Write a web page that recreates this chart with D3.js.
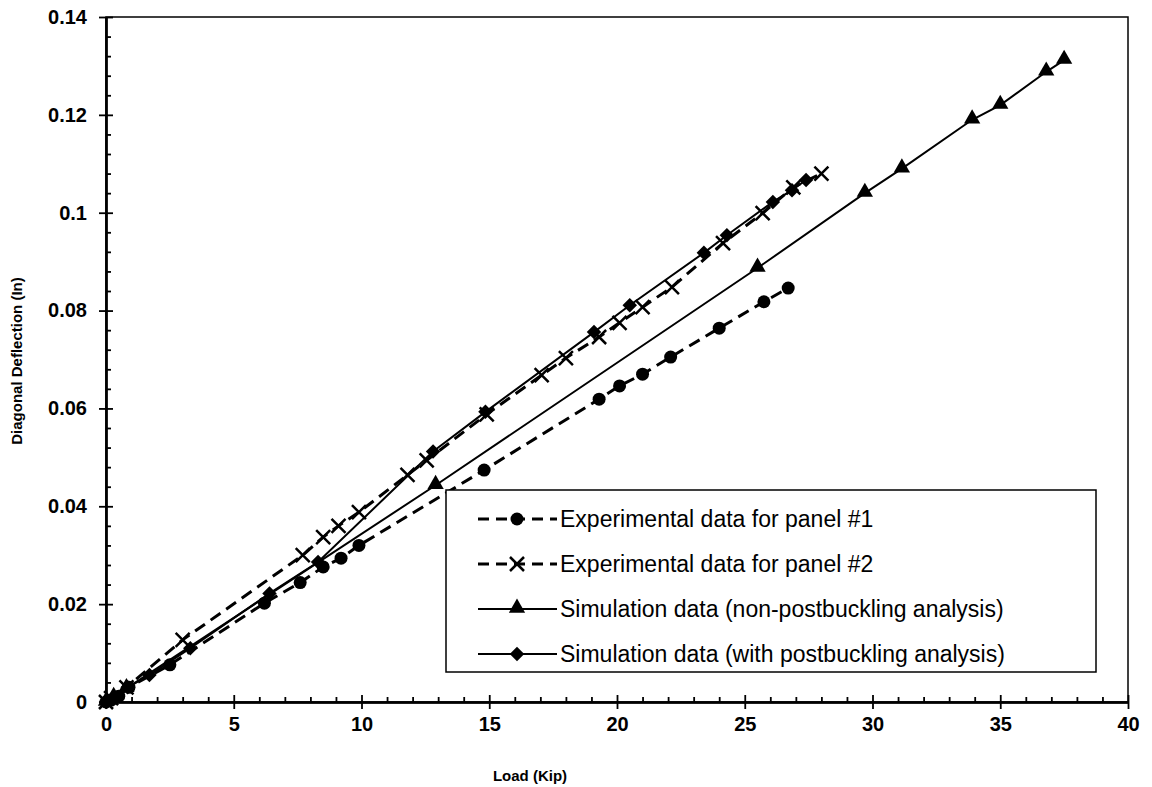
<!DOCTYPE html>
<html>
<head>
<meta charset="utf-8">
<script src="https://cdn.jsdelivr.net/npm/d3@7"></script>
<style>
  body { margin: 0; background: #fff; }
  svg text { font-family: "Liberation Sans", Arial, sans-serif; }
</style>
</head>
<body>
<div id="chart"></div>
<script>
// values
var panel1X = [0, 0.2, 0.5, 0.9, 2.5, 6.2, 7.6, 8.5, 9.2, 9.9, 14.8, 19.3, 20.1, 21.0, 22.1, 24.0, 25.75, 26.7];
var panel1Y = [0, 0.0004, 0.0012, 0.003, 0.0076, 0.0202, 0.0244, 0.0276, 0.0294, 0.032, 0.0474, 0.0619, 0.0646, 0.067, 0.0705, 0.0764, 0.0818, 0.0846];

var panel2X = [0, 0.2, 0.8, 3.0, 7.7, 8.5, 9.1, 9.9, 11.8, 12.55, 14.9, 17.05, 18.0, 19.3, 20.1, 21.0, 22.15, 24.15, 25.7, 26.9, 28.0];
var panel2Y = [0, 0.0008, 0.003, 0.0127, 0.030, 0.0337, 0.036, 0.0388, 0.0464, 0.0494, 0.0588, 0.0668, 0.0703, 0.0746, 0.0775, 0.0807, 0.0848, 0.0938, 0.0999, 0.1052, 0.108];

var simNoPbX = [0, 0.3, 0.8, 12.9, 25.5, 29.7, 31.15, 33.9, 35.0, 36.8, 37.5];
var simNoPbY = [0, 0.001, 0.0028, 0.0443, 0.0887, 0.104, 0.109, 0.119, 0.122, 0.1288, 0.1312];

var simPbX = [0, 0.3, 0.85, 1.7, 3.3, 6.4, 8.3, 12.8, 14.85, 19.1, 20.5, 23.4, 24.3, 26.1, 26.85, 27.4];
var simPbY = [0, 0.001, 0.003, 0.0055, 0.011, 0.0222, 0.0286, 0.0512, 0.0593, 0.0756, 0.0811, 0.0918, 0.0954, 0.1022, 0.1046, 0.1067];

var xTicks = [0, 5, 10, 15, 20, 25, 30, 35, 40];
var yTicks = [0, 0.02, 0.04, 0.06, 0.08, 0.1, 0.12, 0.14];

var legendLabels = [
  "Experimental data for panel #1",
  "Experimental data for panel #2",
  "Simulation data (non-postbuckling analysis)",
  "Simulation data (with postbuckling analysis)"
];

var width = 1152, height = 787;

var svg = d3.select("#chart").append("svg")
  .attr("width", width)
  .attr("height", height);

var x = d3.scaleLinear().domain([0, 40]).range([106, 1128]);
var y = d3.scaleLinear().domain([0, 0.14]).range([702, 17]);

// frame
svg.append("rect")
  .attr("x", x(0)).attr("y", y(0.14))
  .attr("width", x(40) - x(0)).attr("height", y(0) - y(0.14))
  .attr("fill", "none").attr("stroke", "#000").attr("stroke-width", 1.5);

var xMinor = d3.range(0, 41, 1).filter(function(d) { return d % 5 != 0; });
var yMinor = d3.range(0, 36, 1).map(function(d) { return d * 0.004; })
  .filter(function(d, i) { return i % 5 != 0; });

function styleAxis(g) {
  g.select(".domain").attr("stroke-width", 2);
  g.selectAll(".tick line").attr("stroke-width", 1.8);
}

// x axis: outer ticks with labels, inner halves of major ticks, minor ticks
svg.append("g")
  .attr("transform", "translate(0," + y(0) + ")")
  .call(d3.axisBottom(x).tickValues(xTicks).tickSize(7).tickPadding(8).tickSizeOuter(0))
  .call(styleAxis)
  .call(function(g) {
    g.selectAll("text").attr("font-size", 20).attr("font-weight", "bold").attr("fill", "#000");
  });
svg.append("g")
  .attr("transform", "translate(0," + y(0) + ")")
  .call(d3.axisBottom(x).tickValues(xTicks).tickSize(-7).tickFormat("").tickSizeOuter(0))
  .call(styleAxis);
svg.append("g")
  .attr("transform", "translate(0," + y(0) + ")")
  .call(d3.axisBottom(x).tickValues(xMinor).tickSize(-5).tickFormat("").tickSizeOuter(0))
  .call(styleAxis);

// y axis
svg.append("g")
  .attr("transform", "translate(" + x(0) + ",0)")
  .call(d3.axisLeft(y).tickValues(yTicks).tickSize(7).tickPadding(12).tickSizeOuter(0)
    .tickFormat(function(d) { return String(+d.toFixed(2)); }))
  .call(styleAxis)
  .call(function(g) {
    g.selectAll("text").attr("font-size", 20).attr("font-weight", "bold").attr("fill", "#000");
  });
svg.append("g")
  .attr("transform", "translate(" + x(0) + ",0)")
  .call(d3.axisLeft(y).tickValues(yTicks).tickSize(-7).tickFormat("").tickSizeOuter(0))
  .call(styleAxis);
svg.append("g")
  .attr("transform", "translate(" + x(0) + ",0)")
  .call(d3.axisLeft(y).tickValues(yMinor).tickSize(-5).tickFormat("").tickSizeOuter(0))
  .call(styleAxis);

// axis titles
svg.append("text")
  .attr("x", 530).attr("y", 781)
  .attr("text-anchor", "middle")
  .attr("font-size", 15).attr("font-weight", "bold")
  .text("Load (Kip)");

svg.append("text")
  .attr("transform", "translate(22," + 361 + ") rotate(-90)")
  .attr("text-anchor", "middle")
  .attr("font-size", 15).attr("font-weight", "bold")
  .text("Diagonal Deflection (In)");

var series = [
  { xs: panel1X, ys: panel1Y, dash: "12,7", width: 3, marker: "circle" },
  { xs: panel2X, ys: panel2Y, dash: "12,7", width: 3, marker: "cross" },
  { xs: simNoPbX, ys: simNoPbY, dash: null, width: 2, marker: "triangle" },
  { xs: simPbX, ys: simPbY, dash: null, width: 2, marker: "diamond" }
];

var line = d3.line()
  .x(function(d) { return x(d[0]); })
  .y(function(d) { return y(d[1]); });

function drawMarker(g, type, px, py) {
  if (type == "circle") {
    g.append("circle").attr("cx", px).attr("cy", py).attr("r", 6.5).attr("fill", "#000");
  } else if (type == "cross") {
    var s = 7;
    g.append("path")
      .attr("d", "M" + (px - s) + "," + (py - s) + "L" + (px + s) + "," + (py + s) +
                 "M" + (px - s) + "," + (py + s) + "L" + (px + s) + "," + (py - s))
      .attr("stroke", "#000").attr("stroke-width", 2.5).attr("fill", "none");
  } else if (type == "triangle") {
    g.append("path")
      .attr("d", d3.symbol().type(d3.symbolTriangle).size(115)())
      .attr("transform", "translate(" + px + "," + (py - 1) + ")")
      .attr("fill", "#000");
  } else {
    // square turned 45 degrees
    g.append("path")
      .attr("d", d3.symbol().type(d3.symbolSquare).size(105)())
      .attr("transform", "translate(" + px + "," + py + ") rotate(45)")
      .attr("fill", "#000");
  }
}

var plot = svg.append("g");
series.forEach(function(s) {
  var pts = s.xs.map(function(v, i) { return [v, s.ys[i]]; });
  plot.append("path")
    .datum(pts)
    .attr("d", line)
    .attr("fill", "none")
    .attr("stroke", "#000")
    .attr("stroke-width", s.width)
    .attr("stroke-dasharray", s.dash);
  var mg = plot.append("g");
  pts.forEach(function(p) { drawMarker(mg, s.marker, x(p[0]), y(p[1])); });
});

// legend
var lg = svg.append("g");
lg.append("rect")
  .attr("x", 446).attr("y", 490).attr("width", 650).attr("height", 182)
  .attr("fill", "#fff").attr("stroke", "#000").attr("stroke-width", 1.5);

legendLabels.forEach(function(label, i) {
  var cy = 519 + i * 45;
  var s = series[i];
  lg.append("line")
    .attr("x1", 478).attr("x2", 557).attr("y1", cy).attr("y2", cy)
    .attr("stroke", "#000").attr("stroke-width", s.dash ? 3 : 2)
    .attr("stroke-dasharray", s.dash ? "11,7" : null);
  drawMarker(lg, s.marker, 517, cy);
  lg.append("text")
    .attr("x", 560).attr("y", cy + 8)
    .attr("font-size", 23)
    .text(label);
});
</script>
</body>
</html>
